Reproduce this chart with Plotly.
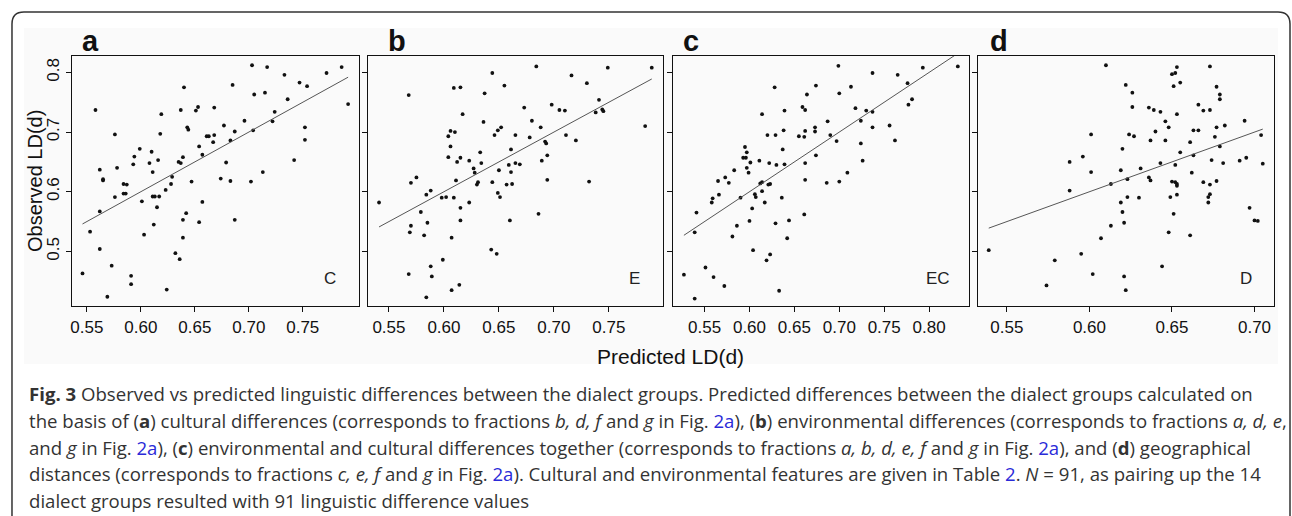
import plotly.graph_objects as go

# ---------------- data ----------------
pred_a = [0.546,0.553,0.558,0.562,0.565,0.565,0.562,0.562,0.573,0.576,0.578,0.576,0.584,0.587,0.584,0.586,0.591,0.591,0.593,0.594,
          0.599,0.601,0.603,0.608,0.610,0.611,0.616,0.611,0.613,0.617,0.615,0.612,0.618,0.619,0.569,0.623,0.624,0.628,0.629,0.632,
          0.636,0.635,0.637,0.637,0.639,0.640,0.639,0.639,0.642,0.643,0.644,0.647,0.651,0.653,0.654,0.654,0.657,0.657,0.661,0.663,
          0.668,0.668,0.667,0.674,0.677,0.679,0.683,0.683,0.685,0.687,0.687,0.696,0.702,0.703,0.704,0.705,0.713,0.715,0.717,0.722,
          0.724,0.733,0.736,0.742,0.747,0.752,0.752,0.754,0.772,0.786,0.792]
obs_a = [0.463,0.533,0.737,0.637,0.619,0.621,0.504,0.567,0.476,0.696,0.640,0.591,0.613,0.612,0.597,0.597,0.459,0.445,0.646,0.659,
         0.672,0.584,0.528,0.648,0.667,0.633,0.653,0.592,0.592,0.592,0.574,0.545,0.697,0.730,0.424,0.603,0.436,0.613,0.625,0.497,
         0.487,0.650,0.648,0.737,0.658,0.775,0.523,0.553,0.564,0.708,0.704,0.617,0.736,0.742,0.549,0.676,0.583,0.662,0.693,0.693,
         0.741,0.695,0.683,0.622,0.711,0.649,0.618,0.686,0.779,0.701,0.553,0.719,0.617,0.812,0.703,0.763,0.633,0.766,0.809,0.718,
         0.734,0.796,0.755,0.653,0.783,0.708,0.687,0.777,0.799,0.809,0.747]

pred_b = [0.541,0.568,0.570,0.575,0.568,0.569,0.570,0.579,0.582,0.584,0.588,0.585,0.588,0.589,0.584,0.599,0.598,0.602,0.607,0.614,
          0.607,0.609,0.615,0.617,0.606,0.610,0.604,0.606,0.604,0.612,0.615,0.611,0.609,0.615,0.615,0.623,0.623,0.627,0.628,0.630,
          0.631,0.633,0.634,0.636,0.637,0.644,0.644,0.643,0.648,0.646,0.649,0.652,0.650,0.649,0.651,0.655,0.657,0.659,0.661,0.661,
          0.662,0.660,0.665,0.669,0.665,0.673,0.678,0.680,0.684,0.686,0.688,0.689,0.692,0.693,0.694,0.694,0.698,0.705,0.710,0.711,
          0.716,0.720,0.730,0.732,0.738,0.741,0.744,0.745,0.749,0.783,0.789]
obs_b = [0.582,0.762,0.615,0.624,0.462,0.532,0.543,0.566,0.527,0.595,0.602,0.548,0.475,0.458,0.423,0.486,0.590,0.591,0.435,0.444,
         0.523,0.774,0.775,0.730,0.702,0.700,0.693,0.676,0.658,0.650,0.657,0.619,0.590,0.573,0.552,0.582,0.652,0.639,0.632,0.612,
         0.616,0.666,0.648,0.717,0.765,0.799,0.616,0.503,0.496,0.695,0.703,0.708,0.636,0.598,0.591,0.778,0.612,0.645,0.633,0.671,
         0.613,0.552,0.648,0.646,0.695,0.741,0.691,0.719,0.810,0.563,0.708,0.652,0.684,0.681,0.661,0.620,0.746,0.737,0.736,0.695,
         0.795,0.686,0.782,0.617,0.733,0.754,0.738,0.735,0.808,0.710,0.808]

pred_c = [0.527,0.539,0.539,0.541,0.551,0.560,0.572,0.558,0.559,0.566,0.565,0.573,0.577,0.583,0.590,0.581,0.586,0.595,0.597,0.593,
          0.596,0.601,0.597,0.599,0.603,0.600,0.604,0.606,0.607,0.611,0.612,0.614,0.614,0.614,0.617,0.619,0.620,0.621,0.623,0.622,
          0.623,0.628,0.629,0.629,0.630,0.633,0.636,0.637,0.638,0.639,0.639,0.642,0.644,0.655,0.659,0.661,0.662,0.662,0.662,0.662,
          0.664,0.661,0.673,0.673,0.674,0.674,0.686,0.687,0.690,0.697,0.699,0.700,0.700,0.709,0.713,0.718,0.724,0.724,0.726,0.730,
          0.737,0.737,0.737,0.756,0.762,0.765,0.776,0.777,0.781,0.793,0.832]
obs_c = [0.461,0.532,0.421,0.565,0.473,0.457,0.442,0.582,0.589,0.595,0.618,0.624,0.615,0.636,0.590,0.525,0.543,0.675,0.666,0.657,
         0.657,0.649,0.640,0.632,0.572,0.551,0.502,0.596,0.591,0.652,0.614,0.616,0.601,0.730,0.582,0.485,0.695,0.612,0.613,0.648,
         0.495,0.775,0.695,0.547,0.645,0.434,0.590,0.671,0.703,0.646,0.736,0.522,0.552,0.693,0.742,0.692,0.737,0.702,0.648,0.620,
         0.763,0.562,0.701,0.708,0.778,0.661,0.615,0.718,0.695,0.685,0.811,0.765,0.617,0.632,0.776,0.740,0.719,0.681,0.652,0.736,
         0.799,0.734,0.708,0.711,0.686,0.796,0.782,0.746,0.755,0.808,0.810]

pred_d = [0.539,0.574,0.579,0.588,0.588,0.595,0.596,0.601,0.601,0.602,0.607,0.610,0.613,0.613,0.619,0.619,0.620,0.620,0.621,0.621,
          0.622,0.622,0.623,0.623,0.624,0.626,0.627,0.626,0.630,0.631,0.636,0.637,0.636,0.639,0.637,0.640,0.643,0.643,0.644,0.646,
          0.646,0.648,0.648,0.649,0.650,0.652,0.650,0.651,0.651,0.652,0.652,0.653,0.653,0.653,0.653,0.653,0.655,0.655,0.661,0.661,
          0.662,0.663,0.663,0.666,0.666,0.669,0.669,0.672,0.672,0.673,0.673,0.673,0.673,0.674,0.676,0.677,0.677,0.677,0.679,0.679,
          0.679,0.681,0.682,0.691,0.694,0.695,0.697,0.700,0.702,0.704,0.705]
obs_d = [0.502,0.443,0.485,0.602,0.650,0.496,0.659,0.696,0.633,0.462,0.522,0.812,0.543,0.613,0.636,0.582,0.672,0.566,0.548,0.458,
         0.779,0.435,0.591,0.621,0.696,0.766,0.693,0.742,0.590,0.639,0.624,0.619,0.741,0.737,0.686,0.701,0.734,0.648,0.475,0.718,
         0.686,0.708,0.532,0.591,0.617,0.616,0.797,0.777,0.563,0.645,0.799,0.809,0.730,0.613,0.610,0.595,0.783,0.666,0.527,0.683,
         0.632,0.703,0.661,0.746,0.703,0.736,0.616,0.582,0.591,0.596,0.612,0.810,0.737,0.653,0.692,0.776,0.618,0.708,0.676,0.763,
         0.755,0.648,0.711,0.652,0.719,0.657,0.573,0.552,0.551,0.695,0.647]

panel_letters = ["a", "b", "c", "d"]
panel_tags = ["C", "E", "EC", "D"]
x_ticks = [[0.55, 0.60, 0.65, 0.70, 0.75],
           [0.55, 0.60, 0.65, 0.70, 0.75],
           [0.55, 0.60, 0.65, 0.70, 0.75, 0.80],
           [0.55, 0.60, 0.65, 0.70]]
y_ticks = [0.5, 0.6, 0.7, 0.8]
x_title = "Predicted LD(d)"
y_title = "Observed LD(d)"

caption_lines = [
    "<b>Fig. 3</b> Observed vs predicted linguistic differences between the dialect groups. Predicted differences between the dialect groups calculated on",
    "the basis of (<b>a</b>) cultural differences (corresponds to fractions <i>b, d, f</i> and <i>g</i> in Fig. <span style='color:#2a2ad8'>2a</span>), (<b>b</b>) environmental differences (corresponds to fractions <i>a, d, e</i>,",
    "and <i>g</i> in Fig. <span style='color:#2a2ad8'>2a</span>), (<b>c</b>) environmental and cultural differences together (corresponds to fractions <i>a, b, d, e, f</i> and <i>g</i> in Fig. <span style='color:#2a2ad8'>2a</span>), and (<b>d</b>) geographical",
    "distances (corresponds to fractions <i>c, e, f</i> and <i>g</i> in Fig. <span style='color:#2a2ad8'>2a</span>). Cultural and environmental features are given in Table <span style='color:#2a2ad8'>2</span>. <i>N</i> = 91, as pairing up the 14",
    "dialect groups resulted with 91 linguistic difference values",
]

# ---------------- layout helpers ----------------
W, H = 1292, 516
def px(x): return x / W
def py(y): return 1 - y / H

panels = [(pred_a, obs_a), (pred_b, obs_b), (pred_c, obs_c), (pred_d, obs_d)]
x_dom_px = [(70, 357.3), (366.7, 661.7), (672, 968.3), (977.3, 1273.7)]
y_dom_px = (56, 306)
letter_x = [78, 385, 680, 988]
tag_x = [328.5, 633.5, 937.5, 1245.5]

def r_range(v):
    lo, hi = min(v), max(v)
    d = (hi - lo) * 0.04
    return [lo - d, hi + d]

yr = r_range(obs_a)

AX_FONT = "Liberation Sans, Arial, sans-serif"
fig = go.Figure()
annotations = []
for i, (xv, yv) in enumerate(panels):
    k = "" if i == 0 else str(i + 1)
    fig.add_trace(go.Scatter(x=xv, y=yv, mode="markers", xaxis="x" + k, yaxis="y" + k,
                             marker=dict(size=3.8, color="#111111"), hoverinfo="skip", showlegend=False))
    lo, hi = min(xv), max(xv)
    fig.add_trace(go.Scatter(x=[lo, hi], y=[lo, hi], mode="lines", xaxis="x" + k, yaxis="y" + k,
                             line=dict(color="#555555", width=1), hoverinfo="skip", showlegend=False))
    xr = r_range(xv)
    common = dict(showline=True, mirror=True, linecolor="#111111", linewidth=1.4,
                  ticks="outside", ticklen=5, tickwidth=1, tickcolor="#111111",
                  showgrid=False, zeroline=False,
                  tickfont=dict(family=AX_FONT, size=17, color="#111111"))
    fig.update_layout(**{
        "xaxis" + k: dict(domain=[px(x_dom_px[i][0]), px(x_dom_px[i][1])], range=xr,
                          tickvals=x_ticks[i], ticktext=["%.2f" % t for t in x_ticks[i]],
                          anchor="y" + k, **common),
        "yaxis" + k: dict(domain=[py(y_dom_px[1]), py(y_dom_px[0])], range=yr,
                          tickvals=y_ticks, ticktext=["%.1f" % t for t in y_ticks],
                          tickangle=-90, showticklabels=(i == 0),
                          anchor="x" + k, **common),
    })
    annotations.append(dict(x=px(letter_x[i]), y=py(41), xref="paper", yref="paper",
                            text="<b>%s</b>" % panel_letters[i], showarrow=False,
                            xanchor="left", yanchor="middle",
                            font=dict(family=AX_FONT, size=29, color="#111111")))
    annotations.append(dict(x=px(tag_x[i]), y=py(278), xref="paper", yref="paper",
                            text=panel_tags[i], showarrow=False,
                            xanchor="center", yanchor="middle",
                            font=dict(family=AX_FONT, size=17, color="#222222")))

annotations.append(dict(x=px(670), y=py(356), xref="paper", yref="paper", text=x_title,
                        showarrow=False, xanchor="center", yanchor="middle",
                        font=dict(family=AX_FONT, size=21, color="#111111")))
annotations.append(dict(x=px(33), y=py(181), xref="paper", yref="paper", text=y_title,
                        showarrow=False, xanchor="center", yanchor="middle", textangle=-90,
                        font=dict(family=AX_FONT, size=20, color="#111111")))

cap_y = [393, 420, 447, 473, 500]
for line, yy in zip(caption_lines, cap_y):
    annotations.append(dict(x=px(25), y=py(yy), xref="paper", yref="paper", text=line,
                            showarrow=False, xanchor="left", yanchor="middle", align="left",
                            font=dict(family="Open Sans, Noto Sans, sans-serif", size=18.6, color="#333333")))

# rounded border around the figure (bottom edge lies outside the view)
x0, x1, y0, yb, r = 10, 1290, 12, 540, 12
path = ("M {a},{b} L {a},{c} Q {a},{d} {e},{d} L {f},{d} Q {g},{d} {g},{c} L {g},{b}"
        .format(a=px(x0), b=py(yb), c=py(y0 + r), d=py(y0), e=px(x0 + r), f=px(x1 - r), g=px(x1)))
shapes = [
    dict(type="rect", xref="paper", yref="paper", x0=px(22), x1=px(1278), y0=py(364), y1=py(28),
         fillcolor="#fafafa", line=dict(width=0), layer="below"),
    dict(type="path", xref="paper", yref="paper", path=path, line=dict(color="#333333", width=1.5)),
]

fig.update_layout(width=W, height=H, margin=dict(l=0, r=0, t=0, b=0),
                  paper_bgcolor="white", plot_bgcolor="rgba(0,0,0,0)",
                  annotations=annotations, shapes=shapes, showlegend=False)
fig.write_html("out.html", config={"displayModeBar": False},
               post_script="document.body.style.margin='0';document.body.style.overflow='hidden';")
